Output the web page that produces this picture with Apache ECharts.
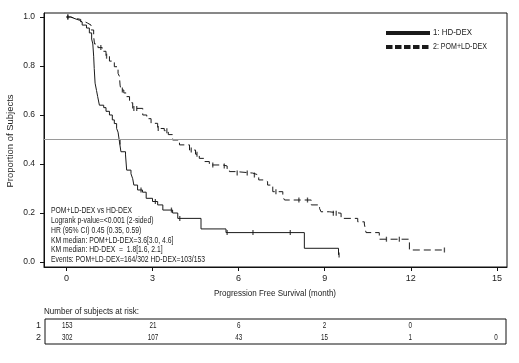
<!DOCTYPE html>
<html><head><meta charset="utf-8">
<script src="https://cdn.jsdelivr.net/npm/echarts@6/dist/echarts.min.js"></script>
<style>html,body{margin:0;padding:0;background:#fff}#c{width:519px;height:363px}</style>
</head><body><div id="c"></div>
<script>
// ---- data ----
var hdTime = [0,0.15,0.3,0.45,0.55,0.7,0.8,0.88,0.92,0.95,0.97,1.0,1.05,1.09,1.15,1.3,1.38,1.5,1.6,1.67,1.75,1.8,1.85,1.9,2.06,2.1,2.25,2.31,2.35,2.48,2.65,2.78,3.0,3.18,3.36,3.7,3.88,4.69,5.56,8.29,9.48];
var hdSurv = [1.0,0.993,0.987,0.98,0.967,0.955,0.935,0.91,0.89,0.84,0.79,0.73,0.70,0.675,0.64,0.63,0.615,0.60,0.58,0.565,0.545,0.53,0.49,0.45,0.437,0.375,0.36,0.34,0.314,0.294,0.285,0.26,0.247,0.233,0.212,0.20,0.178,0.135,0.12,0.056,0.029];
var pomTime = [0,0.15,0.3,0.5,0.65,0.74,0.86,0.95,0.98,1.1,1.25,1.38,1.5,1.67,1.8,1.85,1.87,1.9,2.0,2.08,2.2,2.31,2.66,2.8,2.95,3.18,3.41,3.55,3.7,3.94,4.29,4.5,4.63,4.8,4.98,5.45,5.6,5.68,5.91,6.49,6.7,6.9,7.01,7.19,7.54,7.6,8.53,8.82,8.87,9.16,9.57,10.15,10.38,10.44,10.9,11.95,13.17];
var pomSurv = [1.0,0.995,0.99,0.98,0.975,0.967,0.947,0.92,0.89,0.875,0.86,0.84,0.82,0.797,0.77,0.757,0.722,0.702,0.69,0.675,0.65,0.627,0.60,0.585,0.566,0.545,0.536,0.52,0.498,0.478,0.457,0.44,0.423,0.41,0.396,0.392,0.38,0.369,0.363,0.355,0.335,0.328,0.314,0.287,0.267,0.253,0.233,0.219,0.205,0.199,0.178,0.164,0.155,0.12,0.093,0.049,0.049];
var hdCensorT = [0.05,1.87,2.6,3.1,3.66,3.95,5.6,6.5,7.8,9.5];
var hdCensorS = [1.0,0.49,0.294,0.247,0.212,0.178,0.12,0.12,0.12,0.029];
var pomCensorT = [0.05,1.2,1.4,1.95,2.35,2.45,3.2,3.5,4.35,4.55,5.1,5.5,5.95,6.3,6.55,7.3,8.1,8.4,9.3,9.4,11.15,11.6,13.17];
var pomCensorS = [1.0,0.875,0.84,0.702,0.627,0.627,0.545,0.536,0.457,0.44,0.396,0.392,0.363,0.363,0.355,0.287,0.253,0.253,0.199,0.199,0.093,0.093,0.049];
var xTicks = [0,3,6,9,12,15];
var yTicks = [0,0.2,0.4,0.6,0.8,1.0];
var riskTimes = [0,3,6,9,12,15];
var risk1 = [153,21,6,2,0,null];
var risk2 = [302,107,43,15,1,0];
var seriesNames = ['1: HD-DEX','2: POM+LD-DEX'];
var statLines = [
  'POM+LD-DEX vs HD-DEX',
  'Logrank p-value=<0.001 (2-sided)',
  'HR (95% CI) 0.45 (0.35, 0.59)',
  'KM median: POM+LD-DEX=3.6[3.0, 4.6]',
  'KM median: HD-DEX  =  1.8[1.6, 2.1]',
  'Events: POM+LD-DEX=164/302 HD-DEX=103/153'
];
var xTitle = 'Progression Free Survival (month)';
var yTitle = 'Proportion of Subjects';
var riskTitle = 'Number of subjects at risk:';

// ---- build ----
function zip(a,b){return a.map(function(v,i){return [v,b[i]];});}
var FONT = '"Liberation Sans",Arial,sans-serif';
var mctx = document.createElement('canvas').getContext('2d');
function fit(text, size, target){ mctx.font = size+'px '+FONT; return target/mctx.measureText(text).width; }
var riskData = [];
riskTimes.forEach(function(t,i){
  if(risk1[i]!==null) riskData.push([t,0,risk1[i]]);
  if(risk2[i]!==null) riskData.push([t,1,risk2[i]]);
});
var XMIN=-0.78, XMAX=15.35;
var numScale = fit('153', 9, 10.5);
var chart = echarts.init(document.getElementById('c'));
chart.setOption({
  animation:false,
  textStyle:{fontFamily:FONT,color:'#222'},
  grid:[
    {left:44,right:12,top:13,bottom:96,outerBoundsMode:'none',containLabel:false,show:true,borderColor:'#111',borderWidth:1,backgroundColor:'transparent'},
    {left:45,right:13,top:319,height:25,outerBoundsMode:'none',containLabel:false,show:true,borderColor:'#111',borderWidth:1,backgroundColor:'transparent'}
  ],
  xAxis:[
    {type:'value',gridIndex:0,min:XMIN,max:XMAX,
     axisLine:{show:true,onZero:false,lineStyle:{color:'#111'}},
     axisTick:{show:true,length:4,customValues:xTicks,lineStyle:{color:'#111'}},
     axisLabel:{customValues:xTicks,margin:7,fontSize:9,color:'#222',fontFamily:FONT},
     splitLine:{show:false}},
    {type:'value',gridIndex:1,min:XMIN,max:XMAX,show:false}
  ],
  yAxis:[
    {type:'value',gridIndex:0,min:-0.0204,max:1.0163,
     axisLine:{show:true,onZero:false,lineStyle:{color:'#111'}},
     axisTick:{show:true,length:4,customValues:yTicks,lineStyle:{color:'#111'}},
     axisLabel:{customValues:yTicks,margin:9,fontSize:8.5,color:'#222',fontFamily:FONT,
       formatter:function(v){return v.toFixed(1);}},
     splitLine:{show:false}},
    {type:'category',gridIndex:1,data:['1','2'],inverse:true,
     axisLine:{show:false},axisTick:{show:false},
     axisLabel:{margin:4,fontSize:9,color:'#222',fontFamily:FONT}}
  ],
  series:[
    {name:seriesNames[0],type:'line',step:'end',xAxisIndex:0,yAxisIndex:0,data:zip(hdTime,hdSurv),
     symbol:'none',lineStyle:{color:'#1a1a1a',width:1},itemStyle:{color:'#1a1a1a'},
     markLine:{silent:true,symbol:'none',label:{show:false},lineStyle:{color:'#9a9a9a',width:1,type:'solid'},data:[{yAxis:0.5}]}},
    {name:seriesNames[1],type:'line',step:'end',xAxisIndex:0,yAxisIndex:0,data:zip(pomTime,pomSurv),
     symbol:'none',lineStyle:{color:'#1a1a1a',width:1,type:[7,4]},itemStyle:{color:'#1a1a1a'}},
    {name:'c1',type:'scatter',xAxisIndex:0,yAxisIndex:0,data:zip(hdCensorT,hdCensorS),
     symbol:'rect',symbolSize:[1.3,5],itemStyle:{color:'#222'},silent:true},
    {name:'c2',type:'scatter',xAxisIndex:0,yAxisIndex:0,data:zip(pomCensorT,pomCensorS),
     symbol:'rect',symbolSize:[1.3,5],itemStyle:{color:'#222'},silent:true},
    {name:'risk',type:'custom',xAxisIndex:1,yAxisIndex:1,data:riskData,silent:true,
     renderItem:function(params,api){
       var p = api.coord([api.value(0),api.value(1)]);
       return {type:'text',x:p[0],y:p[1],scaleX:numScale,
         style:{text:String(api.value(2)),font:'9px '+FONT,fill:'#222',textAlign:'center',textVerticalAlign:'middle'}};
     }}
  ],
  graphic:[
    {type:'text',x:51,y:206,scaleX:fit(statLines[5],8.5,154),
     style:{text:statLines.join('\n'),font:'8.5px '+FONT,lineHeight:9.8,fill:'#222',textVerticalAlign:'top'}},
    {type:'text',x:44,y:312,scaleX:fit(riskTitle,9,95),
     style:{text:riskTitle,font:'9px '+FONT,fill:'#222',textVerticalAlign:'middle'}},
    {type:'text',x:275,y:293,scaleX:fit(xTitle,9.5,122),
     style:{text:xTitle,font:'9.5px '+FONT,fill:'#222',textAlign:'center',textVerticalAlign:'middle'}},
    {type:'text',x:10,y:141,rotation:Math.PI/2,scaleX:fit(yTitle,9.5,93),
     style:{text:yTitle,font:'9.5px '+FONT,fill:'#222',textAlign:'center',textVerticalAlign:'middle'}},
    {type:'line',shape:{x1:386,y1:33,x2:430,y2:33},style:{stroke:'#1a1a1a',lineWidth:4}},
    {type:'line',shape:{x1:386,y1:47,x2:430,y2:47},style:{stroke:'#1a1a1a',lineWidth:4,lineDash:[6.5,2.5]}},
    {type:'text',x:433,y:33,scaleX:fit(seriesNames[0],9,39),
     style:{text:seriesNames[0],font:'9px '+FONT,fill:'#222',textVerticalAlign:'middle'}},
    {type:'text',x:433,y:47,scaleX:fit(seriesNames[1],9,54),
     style:{text:seriesNames[1],font:'9px '+FONT,fill:'#222',textVerticalAlign:'middle'}}
  ]
});
</script></body></html>
